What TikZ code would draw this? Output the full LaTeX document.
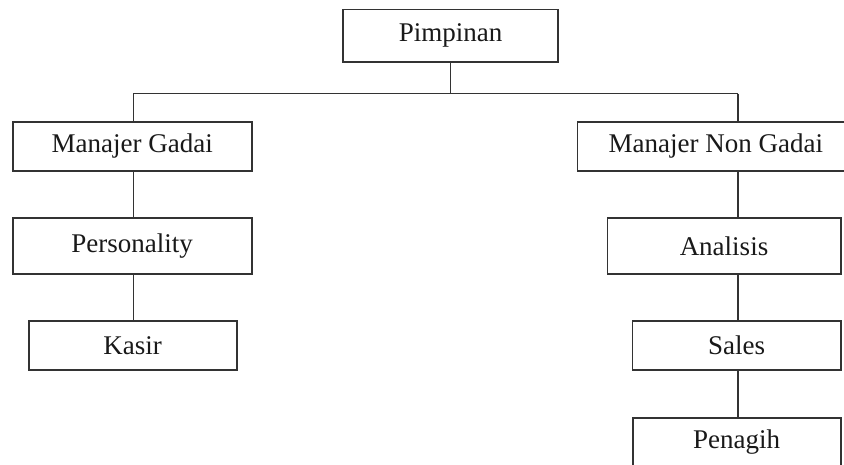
\documentclass[tikz,border=0pt]{standalone}
\usepackage{fontspec}
\setmainfont{Liberation Serif}
\begin{document}
\begin{tikzpicture}[x=1pt,y=-1pt,
  orgbox/.style={draw=black!80, line width=1.6pt, fill=white, inner sep=0pt,
    font=\fontsize{27}{32}\selectfont, text=black!90},
  link/.style={draw=black!80, line width=1.5pt}]
\useasboundingbox (0,0) rectangle (844,464);
\clip (0,0) rectangle (844,464);
\node[orgbox, minimum width=215pt, minimum height=52.5pt] (pim) at (450.5,35.75) {Pimpinan};
\node[orgbox, minimum width=239pt, minimum height=49pt] (mg) at (132.2,146.2) {Manajer Gadai};
\node[orgbox, minimum width=277pt, minimum height=49pt] (mng) at (715.8,146.2) {Manajer Non Gadai};
\node[orgbox, minimum width=239pt, minimum height=56.3pt] (per) at (132.2,245.85) {Personality};
\node[orgbox, minimum width=208pt, minimum height=49.3pt] (kas) at (132.7,345.35) {Kasir};
\node[orgbox, minimum width=233.4pt, minimum height=56.3pt] (ana) at (724,245.85) {Analisis};
\node[orgbox, minimum width=208.4pt, minimum height=49.3pt] (sal) at (736.5,345.35) {Sales};
\node[orgbox, minimum width=208pt, minimum height=49.3pt] (pen) at (736.7,442.35) {Penagih};
\coordinate (busL) at (133.3,93.5);
\coordinate (busR) at (738,93.5);
\coordinate (stem) at (450.7,93.5);
\draw[link] (busL) -- (busR);
\draw[link] (stem |- pim.south) -- (stem);
\draw[link] (busL) -- (busL |- mg.north);
\draw[link] (busR) -- (busR |- mng.north);
\draw[link] (busL |- mg.south) -- (busL |- per.north);
\draw[link] (busL |- per.south) -- (busL |- kas.north);
\draw[link] (busR |- mng.south) -- (busR |- ana.north);
\draw[link] (busR |- ana.south) -- (busR |- sal.north);
\draw[link] (busR |- sal.south) -- (busR |- pen.north);
\end{tikzpicture}
\end{document}
